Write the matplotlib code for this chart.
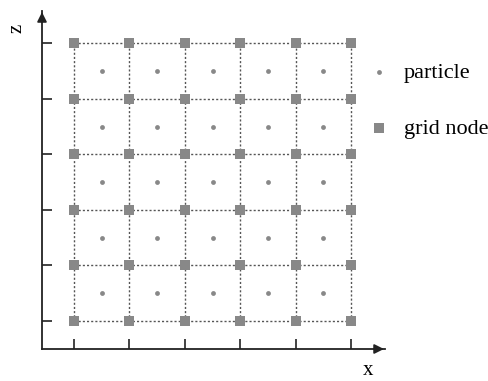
import matplotlib.pyplot as plt
import numpy as np

plt.rcParams['font.family'] = ['Liberation Serif', 'DejaVu Serif']

# grid node and particle positions (cell units)
node_x = [0, 1, 2, 3, 4, 5]
node_z = [0, 1, 2, 3, 4, 5]
part_x = [0.5, 1.5, 2.5, 3.5, 4.5]
part_z = [0.5, 1.5, 2.5, 3.5, 4.5]

fig = plt.figure(figsize=(4.89, 3.81), dpi=100)
ax = fig.add_axes([42 / 489, 32 / 381, 343 / 489, 338 / 381])

NX, NZ = np.meshgrid(node_x, node_z)
PX, PZ = np.meshgrid(part_x, part_z)

# dotted cell lines
for z in node_z:
    ax.plot([node_x[0], node_x[-1]], [z, z], ls=(0, (1.5, 1.5)), color='#555555', lw=1, zorder=1)
for x in node_x:
    ax.plot([x, x], [node_z[0], node_z[-1]], ls=(0, (1.5, 1.5)), color='#555555', lw=1, zorder=1)

p = ax.scatter(PX.ravel(), PZ.ravel(), s=12, marker='o', color='#888888', lw=0, zorder=3)
g = ax.scatter(NX.ravel(), NZ.ravel(), s=45, marker='s', color='#888888', lw=0, zorder=3)

ax.set_xlim(-0.578, 5.61)
ax.set_ylim(-0.504, 5.58)

for s in ['top', 'right']:
    ax.spines[s].set_visible(False)
for s in ['left', 'bottom']:
    ax.spines[s].set_linewidth(1.3)
    ax.spines[s].set_color('#222222')

ax.set_xticks(node_x)
ax.set_yticks(node_z)
ax.tick_params(direction='in', length=7, width=1.2, color='#222222',
               labelbottom=False, labelleft=False)

# arrow heads
ax.annotate('', xy=(1.005, 0), xytext=(0.96, 0), xycoords='axes fraction',
            arrowprops=dict(arrowstyle='-|>', color='#222222', lw=1.3, mutation_scale=14))
ax.annotate('', xy=(0, 1.005), xytext=(0, 0.96), xycoords='axes fraction',
            arrowprops=dict(arrowstyle='-|>', color='#222222', lw=1.3, mutation_scale=14))

ax.set_xlabel('x', fontsize=15)
ax.set_ylabel('z', fontsize=15)
ax.xaxis.set_label_coords(0.95, -0.035)
ax.yaxis.set_label_coords(-0.045, 0.95)

fig.legend([p, g], ['particle', 'grid node'], loc='upper left',
           bbox_to_anchor=(368 / 489, 1 - 62 / 381), frameon=False,
           fontsize=16, handlelength=1.0, handletextpad=0.6,
           labelspacing=1.6, borderpad=0, borderaxespad=0)

fig.savefig('out.png', dpi=100)
